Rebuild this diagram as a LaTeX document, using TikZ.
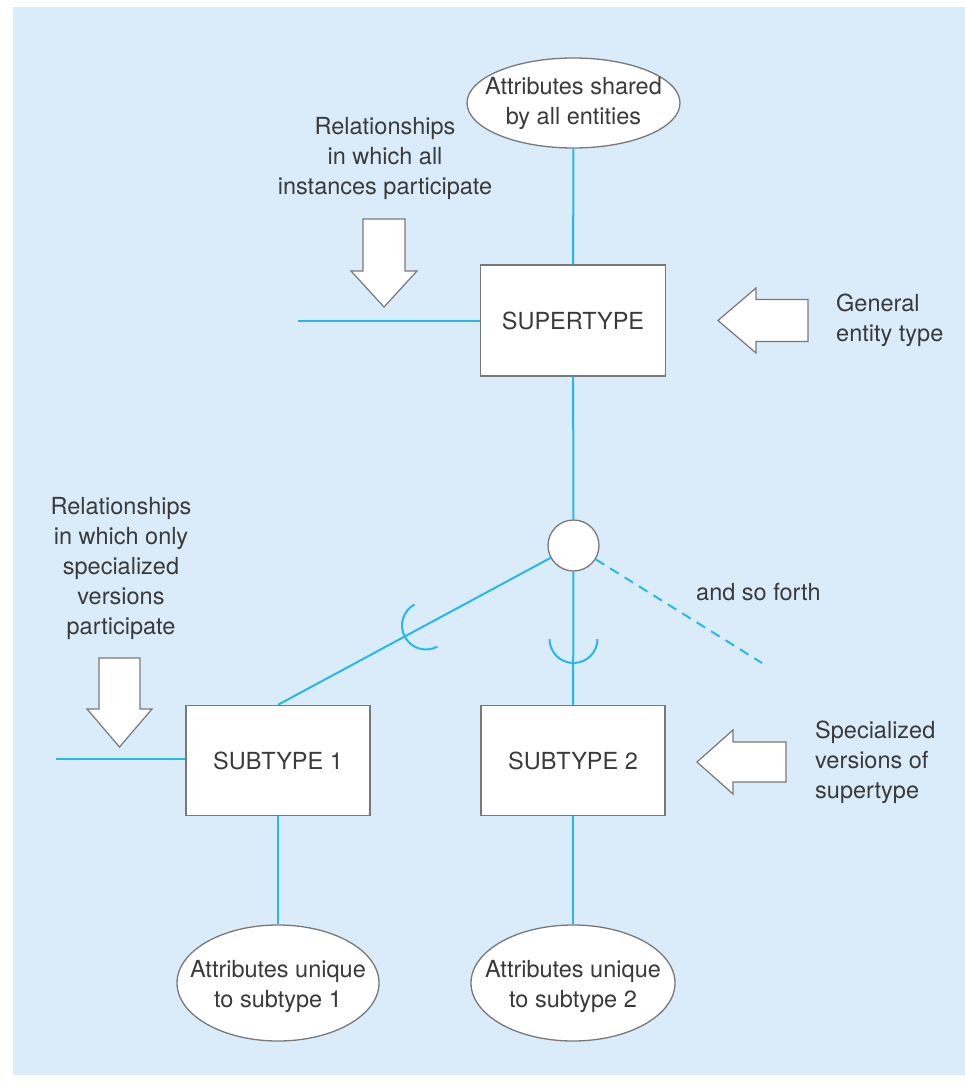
\documentclass[tikz,border=0pt]{standalone}
\usepackage{fontspec}
\setmainfont{TeX Gyre Heros}
\usetikzlibrary{shapes.geometric}
\definecolor{panel}{RGB}{218,236,250}
\definecolor{link}{RGB}{38,184,232}
\definecolor{edge}{RGB}{120,120,120}
\definecolor{ink}{RGB}{58,58,58}
\begin{document}
\begin{tikzpicture}[x=1pt,y=-1pt,
  every node/.style={font=\fontsize{23.5}{30}\selectfont, text=ink},
  entity/.style={draw=edge, line width=1.4pt, fill=white, rectangle,
    minimum width=184pt, minimum height=110pt, inner sep=0pt},
  attr/.style={draw=edge, line width=1.3pt, fill=white, ellipse, inner sep=0pt},
  joincircle/.style={draw=edge, line width=1.3pt, fill=white, circle, inner sep=0pt,
    minimum size=51pt},
  conn/.style={draw=link, line width=2pt},
  moreconn/.style={conn, dash pattern=on 10pt off 7pt},
  subsetmark/.style={draw=link, line width=2pt},
  blockarrow/.style={draw=edge, line width=1.2pt, fill=white, line join=miter},
  note/.style={align=center, inner sep=0pt},
  sidenote/.style={align=left, inner sep=0pt, anchor=west},
]
% canvas and background panel
\useasboundingbox (0,0) rectangle (965,1086);
\fill[panel] (13,7) rectangle (965,1075);

% entity boxes
\node[entity, minimum width=185pt, minimum height=111pt] (sup) at (573,320.5) {SUPERTYPE};
\node[entity] (sub1) at (278,760.5) {SUBTYPE 1};
\node[entity] (sub2) at (573,760.5) {SUBTYPE 2};

% attribute ellipses
\node[attr, minimum width=213pt, minimum height=90pt] (attrsup) at (573.5,103) {};
\node[note] (attrsuptext) at (attrsup) {Attributes shared\\by all entities};
\node[attr, minimum width=202pt, minimum height=116pt] (attrsub1) at (278,983) {};
\node[note] (attrsub1text) at ([yshift=-3pt]attrsub1.center) {Attributes unique\\to subtype 1};
\node[attr, minimum width=204pt, minimum height=116pt] (attrsub2) at (573,983) {};
\node[note] (attrsub2text) at ([yshift=-3pt]attrsub2.center) {Attributes unique\\to subtype 2};

% specialization circle
\node[joincircle] (circ) at (573.5,545.5) {};

% free ends of relationship lines
\coordinate (relsupend) at (298,321);
\coordinate (relsubend) at (56,759);
\coordinate (moreend) at (762,663);

% connectors
\draw[conn] (attrsup) -- (sup);
\draw[conn] (relsupend) -- (sup.west |- relsupend);
\draw[conn] (sup) -- (circ);
\draw[conn] (circ) -- (sub1.north);
\draw[conn] (circ) -- (sub2);
\draw[moreconn] (circ) -- (moreend);
\draw[conn] (relsubend) -- (sub1.west |- relsubend);
\draw[conn] (sub1) -- (attrsub1);
\draw[conn] (sub2) -- (attrsub2);

% subset symbols on the subtype lines
\coordinate (subset1) at (426,625.5);
\coordinate (subset2) at (573.5,639);
\draw[subsetmark] ([shift={(118.4:24pt)}]subset1) arc[start angle=118.4, end angle=298.4, radius=24pt];
\draw[subsetmark] ([shift={(180:24pt)}]subset2) arc[start angle=180, end angle=360, radius=24pt];

% block arrows
\draw[blockarrow] (363,219) -- (405,219) -- (405,271) -- (417,271) -- (384,307)
  -- (351,271) -- (363,271) -- cycle;
\draw[blockarrow] (99,658) -- (140,658) -- (140,709) -- (152,709) -- (119.5,747)
  -- (87,709) -- (99,709) -- cycle;
\draw[blockarrow] (808,299.5) -- (808,341.5) -- (756,341.5) -- (756,353) -- (718,320.5)
  -- (756,288) -- (756,299.5) -- cycle;
\draw[blockarrow] (786,742) -- (786,782) -- (733,782) -- (733,794) -- (697,762)
  -- (733,730) -- (733,742) -- cycle;

% annotations
\node[note] (relall) at (385,158) {Relationships\\in which all\\instances participate};
\node[note] (relonly) at (121,568) {Relationships\\in which only\\specialized\\versions\\participate};
\node[sidenote] (general) at (836,320) {General\\entity type};
\node[sidenote] (special) at (815,762) {Specialized\\versions of\\supertype};
\node[sidenote] (forth) at (696,592) {and so forth};
\end{tikzpicture}
\end{document}
